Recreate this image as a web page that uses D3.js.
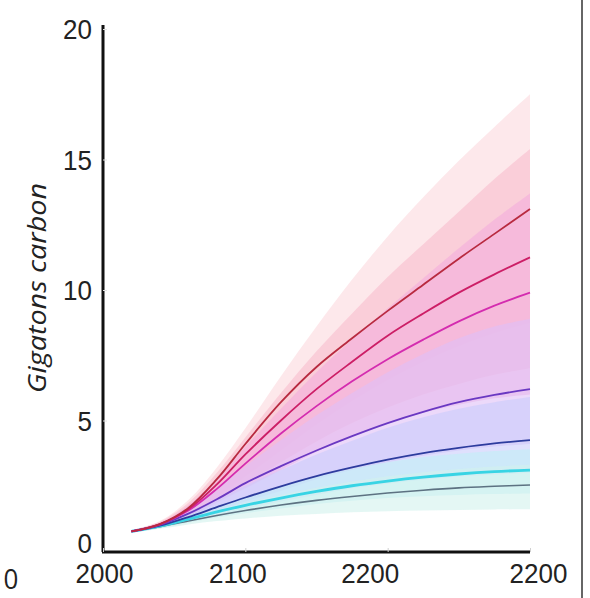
<!DOCTYPE html>
<html>
<head>
<meta charset="utf-8">
<script src="https://cdn.jsdelivr.net/npm/d3@7"></script>
<style>
  html, body { margin: 0; padding: 0; background: #fff; }
  svg { display: block; font-family: "Open Sans", "Noto Sans", sans-serif; }
</style>
</head>
<body>
<svg id="chart" width="590" height="598"></svg>
<script>
// years sampled for every series
const years = [2020, 2040, 2060, 2080, 2100, 2125, 2150, 2175, 2200, 2225, 2250, 2275, 2300];

// median lines, top scenario first (Gt C)
const redLine     = [0.75, 1.03, 1.65, 2.75, 4.10, 5.70, 7.05, 8.15, 9.20, 10.20, 11.20, 12.15, 13.10];
const crimsonLine = [0.75, 1.03, 1.60, 2.55, 3.70, 5.00, 6.20, 7.25, 8.25, 9.10, 9.90, 10.60, 11.25];
const magentaLine = [0.75, 1.02, 1.55, 2.38, 3.35, 4.50, 5.55, 6.50, 7.35, 8.10, 8.80, 9.40, 9.90];
const purpleLine  = [0.75, 1.00, 1.43, 1.98, 2.60, 3.25, 3.85, 4.40, 4.90, 5.33, 5.70, 5.98, 6.20];
const blueLine    = [0.75, 0.97, 1.30, 1.68, 2.05, 2.48, 2.87, 3.20, 3.50, 3.75, 3.95, 4.12, 4.25];
const cyanLine    = [0.75, 0.95, 1.22, 1.50, 1.75, 2.03, 2.28, 2.50, 2.68, 2.83, 2.95, 3.04, 3.10];
const grayLine    = [0.75, 0.93, 1.15, 1.36, 1.55, 1.76, 1.94, 2.09, 2.22, 2.33, 2.42, 2.48, 2.53];

// uncertainty ranges (low / high)
const redLow      = [0.70, 0.95, 1.35, 2.05, 2.85, 3.85, 4.85, 5.75, 6.55, 7.25, 7.85, 8.35, 8.75];
const redHigh     = [0.80, 1.15, 1.95, 3.20, 4.70, 6.70, 8.60, 10.40, 12.05, 13.55, 14.95, 16.25, 17.50];
const crimsonLow  = [0.70, 0.95, 1.30, 1.95, 2.60, 3.40, 4.20, 4.90, 5.50, 6.00, 6.40, 6.75, 7.00];
const crimsonHigh = [0.80, 1.12, 1.85, 3.00, 4.35, 6.05, 7.65, 9.10, 10.50, 11.75, 13.00, 14.25, 15.40];
const magentaLow  = [0.70, 0.93, 1.28, 1.85, 2.40, 3.10, 3.80, 4.40, 4.90, 5.30, 5.60, 5.85, 6.00];
const magentaHigh = [0.80, 1.08, 1.75, 2.80, 4.00, 5.45, 6.85, 8.10, 9.30, 10.45, 11.60, 12.70, 13.70];
const purpleLow   = [0.70, 0.90, 1.20, 1.55, 1.90, 2.30, 2.75, 3.10, 3.40, 3.65, 3.85, 4.00, 4.10];
const purpleHigh  = [0.80, 1.06, 1.65, 2.40, 3.25, 4.25, 5.20, 6.05, 6.85, 7.55, 8.15, 8.60, 8.90];
const blueLow     = [0.70, 0.88, 1.12, 1.38, 1.62, 1.90, 2.15, 2.40, 2.58, 2.73, 2.85, 2.93, 3.00];
const blueHigh    = [0.80, 1.04, 1.47, 1.95, 2.50, 3.10, 3.70, 4.22, 4.72, 5.12, 5.45, 5.70, 5.90];
const cyanLow     = [0.70, 0.87, 1.08, 1.28, 1.45, 1.63, 1.80, 1.93, 2.03, 2.10, 2.15, 2.18, 2.20];
const cyanHigh    = [0.80, 1.02, 1.36, 1.72, 2.08, 2.48, 2.85, 3.15, 3.40, 3.60, 3.73, 3.83, 3.90];
const grayLow     = [0.70, 0.85, 1.02, 1.15, 1.25, 1.35, 1.42, 1.48, 1.52, 1.55, 1.57, 1.59, 1.60];
const grayHigh    = [0.80, 1.00, 1.27, 1.56, 1.84, 2.15, 2.42, 2.66, 2.86, 3.02, 3.14, 3.24, 3.30];

// axis ticks
const xTicks = [2000, 2100, 2200, 2300];
const xTickLabels = ["2000", "2100", "2200", "2200"];
const yTicks = [0, 5, 10, 15, 20];

const series = [
  { line: grayLine,    low: grayLow,    high: grayHigh,    stroke: "#5d7282", fill: "#d2f2ec", w: 1.6 },
  { line: cyanLine,    low: cyanLow,    high: cyanHigh,    stroke: "#38d4e4", fill: "#c2eef6", w: 2.8 },
  { line: blueLine,    low: blueLow,    high: blueHigh,    stroke: "#2d3c9e", fill: "#c9cbfb", w: 1.8 },
  { line: purpleLine,  low: purpleLow,  high: purpleHigh,  stroke: "#6a38c2", fill: "#e0c0f6", w: 1.8 },
  { line: magentaLine, low: magentaLow, high: magentaHigh, stroke: "#d42caf", fill: "#f4aedc", w: 1.8 },
  { line: crimsonLine, low: crimsonLow, high: crimsonHigh, stroke: "#cc1e66", fill: "#f9bccd", w: 1.8 },
  { line: redLine,     low: redLow,     high: redHigh,     stroke: "#b82a40", fill: "#fcd8de", w: 1.8 }
];

const svg = d3.select("#chart");

const x = d3.scaleLinear().domain([2000, 2300]).range([103, 530]);
const y = d3.scaleLinear().domain([0, 20]).range([551, 29]);

// bands, widest first so the narrower ones sit on top
const bandOrder = series.slice().reverse();
const area = d3.area()
  .x((d, i) => x(years[i]))
  .y0(d => y(d[0]))
  .y1(d => y(d[1]))
  .curve(d3.curveCatmullRom);

svg.append("g")
  .selectAll("path")
  .data(bandOrder)
  .enter()
  .append("path")
  .attr("d", s => area(s.low.map((v, i) => [v, s.high[i]])))
  .style("fill", s => s.fill)
  .style("fill-opacity", 0.6);

const line = d3.line()
  .x((d, i) => x(years[i]))
  .y(d => y(d))
  .curve(d3.curveCatmullRom);

svg.append("g")
  .selectAll("path")
  .data(series)
  .enter()
  .append("path")
  .attr("d", s => line(s.line))
  .style("fill", "none")
  .style("stroke", s => s.stroke)
  .style("stroke-width", s => s.w);

// axes (the scan is a little stretched vertically, so text gets scaleY)
const yAxis = svg.append("g")
  .attr("transform", "translate(103,0)")
  .call(d3.axisLeft(y).tickValues(yTicks).tickSize(-4).tickPadding(11));
yAxis.select(".domain").attr("d", "M0,25V552").style("stroke", "#111").style("stroke-width", 3);
yAxis.selectAll(".tick line").style("stroke", "#e2e2e2");
yAxis.selectAll(".tick text")
  .attr("dy", (d, i) => (i === 0 ? "0.05em" : "0.34em"))
  .attr("transform", "scale(1,1.08)")
  .style("font-size", "26px").style("fill", "#222");

const labelShift = [1, -8, -18, 8];
const xAxis = svg.append("g")
  .attr("transform", "translate(0,552)")
  .call(d3.axisBottom(x).tickValues(xTicks).tickFormat((d, i) => xTickLabels[i]).tickSize(-4).tickPadding(10));
xAxis.select(".domain").attr("d", "M102,0H530").style("stroke", "#111").style("stroke-width", 3);
xAxis.selectAll(".tick line").style("stroke", "#d0d0d0");
xAxis.selectAll(".tick text")
  .attr("dx", (d, i) => labelShift[i])
  .attr("transform", "scale(1,1.08)")
  .style("font-size", "26px").style("fill", "#222");

// axis title
svg.append("text")
  .attr("transform", "translate(46,288) rotate(-90) scale(1.15,1)")
  .attr("text-anchor", "middle")
  .style("font-size", "25px")
  .style("font-style", "italic")
  .style("fill", "#222")
  .text("Gigatons carbon");

// leftover label from the neighbouring panel and the panel border
svg.append("text")
  .attr("transform", "translate(11,589) scale(1,1.08)")
  .attr("text-anchor", "middle")
  .style("font-size", "26px").style("fill", "#222")
  .text("0");

svg.append("line")
  .attr("x1", 582).attr("x2", 582).attr("y1", 0).attr("y2", 598)
  .style("stroke", "#666").style("stroke-width", 2);
</script>
</body>
</html>
